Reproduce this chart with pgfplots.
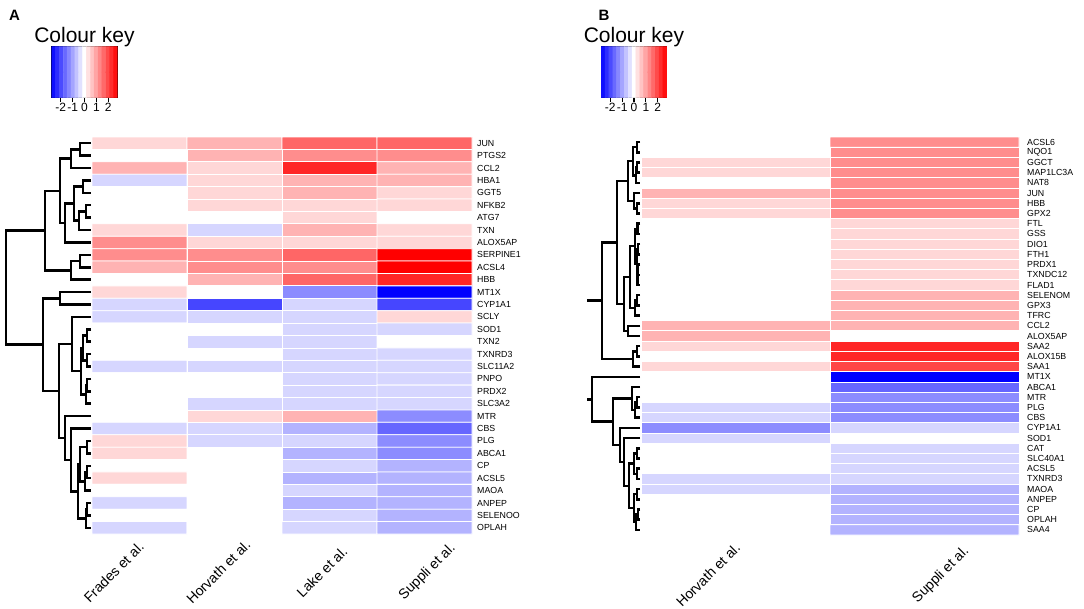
\documentclass[border=0pt]{standalone}
\usepackage{fontspec}
\setmainfont{Liberation Sans}
\usepackage{pgfplots}
\pgfplotsset{compat=1.18}

% blue - white - red, as in the colour key
\pgfplotsset{
  hmColours/.style={
    colormap={hmbwr}{rgb255=(0,0,255) rgb255=(255,255,255) rgb255=(255,0,0)},
    point meta min=-2.76, point meta max=2.76},
  hmHeatAxis/.style={
    hmColours, scale only axis, anchor=north west, enlargelimits=false,
    y dir=reverse,
    axis x line*=bottom, axis y line*=right, axis line style={draw=none},
    major tick length=0pt,
    yticklabel style={font=\fontsize{8.8}{10}\selectfont, anchor=west, inner sep=0.3pt},
    xticklabel style={font=\fontsize{14}{16}\selectfont}},
  hmTreeAxis/.style={scale only axis, anchor=north west, hide axis,
    enlargelimits=false, y dir=reverse},
  hmKeyAxis/.style={
    hmColours, scale only axis, anchor=north west, width=65.6pt, height=51pt,
    xmin=-2.7625, xmax=2.7625, ymin=-0.5, ymax=1.5, enlargelimits=false,
    axis line style={line width=1.1pt},
    xtick={-2,-1,0,1,2}, xticklabels={-2,-1,0,1,2}, ytick=\empty,
    xtick pos=bottom, tick align=outside, major tick length=4pt,
    every tick/.style={black, line width=1.2pt},
    xticklabel style={font=\fontsize{12}{13}\selectfont, inner sep=1pt},
    title={Colour key},
    title style={font=\fontsize{21}{24}\selectfont, at={(0.5,1)}, anchor=south,
      inner sep=0pt, yshift=-6pt}},
}
% one dendrogram link: child, node height, node, child
\newcommand{\treelink}[1]{\addplot[black, line width=2.5pt, line join=miter, mark=none] coordinates {#1};}

\begin{document}
\begin{tikzpicture}
\path[use as bounding box] (0,0) rectangle (1084pt,608pt);

\node[font=\bfseries\fontsize{15}{17}\selectfont] at (14.5pt,593pt) {A};
\node[font=\bfseries\fontsize{15}{17}\selectfont] at (604pt,593pt) {B};

% ---------------- dendrograms ----------------
\begin{axis}[hmTreeAxis, at={(0pt,471pt)}, width=92pt, height=397pt,
  xmin=0, xmax=92, ymin=-0.5, ymax=31.5]
\treelink{(91,0)(80,0)(80,1)(91,1)}
\treelink{(80,0.5)(71,0.5)(71,2)(91,2)}
\treelink{(91,3)(83,3)(83,4)(91,4)}
\treelink{(91,5)(86,5)(86,6)(91,6)}
\treelink{(86,5.5)(79,5.5)(79,7)(91,7)}
\treelink{(83,3.5)(74,3.5)(74,6.25)(79,6.25)}
\treelink{(74,4.875)(65,4.875)(65,8)(91,8)}
\treelink{(71,1.25)(60,1.25)(60,6.4375)(65,6.4375)}
\treelink{(91,9)(80,9)(80,10)(91,10)}
\treelink{(80,9.5)(71,9.5)(71,11)(91,11)}
\treelink{(60,3.844)(45,3.844)(45,10.25)(71,10.25)}
\treelink{(91,12)(60,12)(60,13)(91,13)}
\treelink{(91,15)(87,15)(87,16)(91,16)}
\treelink{(91,17)(87,17)(87,18)(91,18)}
\treelink{(87,15.5)(83,15.5)(83,17.5)(87,17.5)}
\treelink{(91,19)(87,19)(87,20)(91,20)}
\treelink{(87,19.5)(86,19.5)(86,21)(91,21)}
\treelink{(83,16.5)(81,16.5)(81,20.25)(86,20.25)}
\treelink{(91,14)(72,14)(72,18.375)(81,18.375)}
\treelink{(91,24)(87,24)(87,25)(91,25)}
\treelink{(91,26)(87,26)(87,27)(91,27)}
\treelink{(87,26.5)(85,26.5)(85,28)(91,28)}
\treelink{(87,24.5)(80,24.5)(80,27.25)(85,27.25)}
\treelink{(91,29)(87,29)(87,30)(91,30)}
\treelink{(87,29.5)(86,29.5)(86,31)(91,31)}
\treelink{(80,25.875)(78,25.875)(78,30.25)(86,30.25)}
\treelink{(91,23)(71,23)(71,28.06)(78,28.06)}
\treelink{(91,22)(65,22)(65,25.53)(71,25.53)}
\treelink{(72,16.19)(59,16.19)(59,23.77)(65,23.77)}
\treelink{(60,12.5)(43,12.5)(43,19.98)(59,19.98)}
\treelink{(45,7.047)(6,7.047)(6,16.24)(43,16.24)}
\end{axis}

\begin{axis}[hmTreeAxis, at={(587pt,471pt)}, width=54pt, height=398pt,
  xmin=587, xmax=641, ymin=-0.5, ymax=38.5]
\treelink{(640,0)(637,0)(637,1)(640,1)}
\treelink{(640,2)(637,2)(637,3)(640,3)}
\treelink{(637,2.5)(636,2.5)(636,4)(640,4)}
\treelink{(637,0.5)(633,0.5)(633,3.25)(636,3.25)}
\treelink{(640,6)(637,6)(637,7)(640,7)}
\treelink{(640,5)(634,5)(634,6.5)(637,6.5)}
\treelink{(633,1.875)(628,1.875)(628,5.75)(634,5.75)}
\treelink{(640,8)(637.5,8)(637.5,9)(640,9)}
\treelink{(640,10)(638,10)(638,11)(640,11)}
\treelink{(640,12)(638,12)(638,13)(640,13)}
\treelink{(638,12.5)(637.5,12.5)(637.5,14)(640,14)}
\treelink{(638,10.5)(637,10.5)(637,13.25)(637.5,13.25)}
\treelink{(637.5,8.5)(635,8.5)(635,11.875)(637,11.875)}
\treelink{(640,15)(637,15)(637,16)(640,16)}
\treelink{(637,15.5)(635,15.5)(635,17)(640,17)}
\treelink{(635,10.19)(630,10.19)(630,16.25)(635,16.25)}
\treelink{(640,18)(628,18)(628,19)(640,19)}
\treelink{(630,13.22)(624,13.22)(624,18.5)(628,18.5)}
\treelink{(628,3.81)(617,3.81)(617,15.86)(624,15.86)}
\treelink{(640,20)(637,20)(637,21)(640,21)}
\treelink{(637,20.5)(633,20.5)(633,22)(640,22)}
\treelink{(617,9.84)(602,9.84)(602,21.25)(633,21.25)}
\treelink{(602,15.54)(580,15.54)}
\treelink{(640,25)(637,25)(637,26)(640,26)}
\treelink{(637,25.5)(635,25.5)(635,27)(640,27)}
\treelink{(640,24)(632,24)(632,26.25)(635,26.25)}
\treelink{(640,30)(637,30)(637,31)(640,31)}
\treelink{(640,32)(637,32)(637,33)(640,33)}
\treelink{(637,30.5)(634,30.5)(634,32.5)(637,32.5)}
\treelink{(640,34)(637,34)(637,35)(640,35)}
\treelink{(640,36)(638,36)(638,37)(640,37)}
\treelink{(638,36.5)(636,36.5)(636,38)(640,38)}
\treelink{(637,34.5)(634,34.5)(634,37.25)(636,37.25)}
\treelink{(634,31.5)(629,31.5)(629,35.875)(634,35.875)}
\treelink{(640,29)(624,29)(624,33.69)(629,33.69)}
\treelink{(640,28)(620,28)(620,31.34)(624,31.34)}
\treelink{(632,25.125)(613,25.125)(613,29.67)(620,29.67)}
\treelink{(640,23)(592,23)(592,27.4)(613,27.4)}
\treelink{(592,25.2)(580,25.2)}
\end{axis}

% ---------------- colour keys ----------------
\begin{axis}[hmKeyAxis, at={(51.7pt,561.3pt)}]
\addplot[matrix plot*, mesh/cols=17, point meta=explicit] coordinates {
(-2.6,0)[-2.6] (-2.275,0)[-2.275] (-1.95,0)[-1.95] (-1.625,0)[-1.625] (-1.3,0)[-1.3] (-0.975,0)[-0.975] (-0.65,0)[-0.65] (-0.325,0)[-0.325] (0,0)[0] (0.325,0)[0.325] (0.65,0)[0.65] (0.975,0)[0.975] (1.3,0)[1.3] (1.625,0)[1.625] (1.95,0)[1.95] (2.275,0)[2.275] (2.6,0)[2.6]
(-2.6,1)[-2.6] (-2.275,1)[-2.275] (-1.95,1)[-1.95] (-1.625,1)[-1.625] (-1.3,1)[-1.3] (-0.975,1)[-0.975] (-0.65,1)[-0.65] (-0.325,1)[-0.325] (0,1)[0] (0.325,1)[0.325] (0.65,1)[0.65] (0.975,1)[0.975] (1.3,1)[1.3] (1.625,1)[1.625] (1.95,1)[1.95] (2.275,1)[2.275] (2.6,1)[2.6]
};
\end{axis}

\begin{axis}[hmKeyAxis, at={(601.2pt,561.3pt)}]
\addplot[matrix plot*, mesh/cols=17, point meta=explicit] coordinates {
(-2.6,0)[-2.6] (-2.275,0)[-2.275] (-1.95,0)[-1.95] (-1.625,0)[-1.625] (-1.3,0)[-1.3] (-0.975,0)[-0.975] (-0.65,0)[-0.65] (-0.325,0)[-0.325] (0,0)[0] (0.325,0)[0.325] (0.65,0)[0.65] (0.975,0)[0.975] (1.3,0)[1.3] (1.625,0)[1.625] (1.95,0)[1.95] (2.275,0)[2.275] (2.6,0)[2.6]
(-2.6,1)[-2.6] (-2.275,1)[-2.275] (-1.95,1)[-1.95] (-1.625,1)[-1.625] (-1.3,1)[-1.3] (-0.975,1)[-0.975] (-0.65,1)[-0.65] (-0.325,1)[-0.325] (0,1)[0] (0.325,1)[0.325] (0.65,1)[0.65] (0.975,1)[0.975] (1.3,1)[1.3] (1.625,1)[1.625] (1.95,1)[1.95] (2.275,1)[2.275] (2.6,1)[2.6]
};
\end{axis}

% ---------------- heatmap A ----------------
\begin{axis}[hmHeatAxis, at={(92pt,471pt)}, width=380pt, height=397pt,
  xmin=-0.5, xmax=3.5, ymin=-0.5, ymax=31.5,
  ytick={0,...,31},
  yticklabels={JUN,PTGS2,CCL2,HBA1,GGT5,NFKB2,ATG7,TXN,ALOX5AP,SERPINE1,ACSL4,HBB,MT1X,CYP1A1,SCLY,SOD1,TXN2,TXNRD3,SLC11A2,PNPO,PRDX2,SLC3A2,MTR,CBS,PLG,ABCA1,CP,ACSL5,MAOA,ANPEP,SELENOO,OPLAH},
  yticklabel style={xshift=4.7pt},
  xtick={-0.27,0.83,1.92,3.03},
  xticklabels={Frades et al.,Horvath et al.,Lake et al.,Suppli et al.},
  xticklabel style={yshift=-38pt, rotate=45, anchor=center}]
\addplot[matrix plot*, mesh/cols=4, point meta=explicit, draw=white, line width=0.8pt] coordinates {
(0,0)[0.44] (1,0)[0.82] (2,0)[1.66] (3,0)[1.66]
(0,1)[0] (1,1)[0.82] (2,1)[1.24] (3,1)[1.24]
(0,2)[0.82] (1,2)[0.44] (2,2)[2.35] (3,2)[0.82]
(0,3)[-0.44] (1,3)[0.44] (2,3)[0.82] (3,3)[0.82]
(0,4)[0] (1,4)[0.44] (2,4)[0.82] (3,4)[0.44]
(0,5)[0] (1,5)[0.44] (2,5)[0.44] (3,5)[0.44]
(0,6)[0] (1,6)[0] (2,6)[0.44] (3,6)[0]
(0,7)[0.44] (1,7)[-0.44] (2,7)[0.82] (3,7)[0.44]
(0,8)[1.24] (1,8)[0.44] (2,8)[0.44] (3,8)[0.44]
(0,9)[1.24] (1,9)[1.24] (2,9)[1.66] (3,9)[2.76]
(0,10)[0.82] (1,10)[1.24] (2,10)[1.24] (3,10)[2.76]
(0,11)[0] (1,11)[0.82] (2,11)[1.66] (3,11)[2.35]
(0,12)[0.44] (1,12)[0] (2,12)[-1.24] (3,12)[-2.76]
(0,13)[-0.44] (1,13)[-2.0] (2,13)[-0.44] (3,13)[-2.0]
(0,14)[-0.44] (1,14)[-0.44] (2,14)[-0.44] (3,14)[0.44]
(0,15)[0] (1,15)[0] (2,15)[-0.44] (3,15)[-0.44]
(0,16)[0] (1,16)[-0.44] (2,16)[-0.44] (3,16)[0]
(0,17)[0] (1,17)[0] (2,17)[-0.44] (3,17)[-0.44]
(0,18)[-0.44] (1,18)[-0.44] (2,18)[-0.44] (3,18)[-0.44]
(0,19)[0] (1,19)[0] (2,19)[-0.44] (3,19)[-0.44]
(0,20)[0] (1,20)[0] (2,20)[-0.44] (3,20)[-0.44]
(0,21)[0] (1,21)[-0.44] (2,21)[-0.44] (3,21)[-0.44]
(0,22)[0] (1,22)[0.44] (2,22)[0.82] (3,22)[-1.24]
(0,23)[-0.44] (1,23)[-0.44] (2,23)[-0.82] (3,23)[-1.66]
(0,24)[0.44] (1,24)[-0.44] (2,24)[-0.44] (3,24)[-1.24]
(0,25)[0.44] (1,25)[0] (2,25)[-0.82] (3,25)[-1.24]
(0,26)[0] (1,26)[0] (2,26)[-0.44] (3,26)[-0.82]
(0,27)[0.44] (1,27)[0] (2,27)[-0.82] (3,27)[-0.82]
(0,28)[0] (1,28)[0] (2,28)[-0.44] (3,28)[-0.82]
(0,29)[-0.44] (1,29)[0] (2,29)[-0.82] (3,29)[-0.82]
(0,30)[0] (1,30)[0] (2,30)[-0.44] (3,30)[-0.82]
(0,31)[-0.44] (1,31)[0] (2,31)[-0.44] (3,31)[-0.82]
};
\end{axis}

% ---------------- heatmap B ----------------
\begin{axis}[hmHeatAxis, at={(641pt,471pt)}, width=378pt, height=398pt,
  xmin=-0.5, xmax=1.5, ymin=-0.5, ymax=38.5,
  ytick={0,...,38},
  yticklabels={ACSL6,NQO1,GGCT,MAP1LC3A,NAT8,JUN,HBB,GPX2,FTL,GSS,DIO1,FTH1,PRDX1,TXNDC12,FLAD1,SELENOM,GPX3,TFRC,CCL2,ALOX5AP,SAA2,ALOX15B,SAA1,MT1X,ABCA1,MTR,PLG,CBS,CYP1A1,SOD1,CAT,SLC40A1,ACSL5,TXNRD3,MAOA,ANPEP,CP,OPLAH,SAA4},
  yticklabel style={xshift=7.7pt},
  xtick={-0.145,1.087},
  xticklabels={Horvath et al.,Suppli et al.},
  xticklabel style={yshift=-40pt, rotate=45, anchor=center}]
\addplot[matrix plot*, mesh/cols=2, point meta=explicit, draw=white, line width=0.8pt] coordinates {
(0,0)[0] (1,0)[1.24]
(0,1)[0] (1,1)[1.24]
(0,2)[0.44] (1,2)[1.24]
(0,3)[0.44] (1,3)[1.24]
(0,4)[0] (1,4)[1.24]
(0,5)[0.82] (1,5)[1.24]
(0,6)[0.44] (1,6)[1.24]
(0,7)[0.44] (1,7)[1.24]
(0,8)[0] (1,8)[0.44]
(0,9)[0] (1,9)[0.44]
(0,10)[0] (1,10)[0.44]
(0,11)[0] (1,11)[0.44]
(0,12)[0] (1,12)[0.44]
(0,13)[0] (1,13)[0.44]
(0,14)[0] (1,14)[0.44]
(0,15)[0] (1,15)[0.82]
(0,16)[0] (1,16)[0.82]
(0,17)[0] (1,17)[0.82]
(0,18)[0.82] (1,18)[0.82]
(0,19)[0.82] (1,19)[0]
(0,20)[0.44] (1,20)[2.35]
(0,21)[0] (1,21)[2.35]
(0,22)[0.44] (1,22)[2.0]
(0,23)[0] (1,23)[-2.76]
(0,24)[0] (1,24)[-1.66]
(0,25)[0] (1,25)[-1.24]
(0,26)[-0.44] (1,26)[-1.24]
(0,27)[-0.44] (1,27)[-1.24]
(0,28)[-1.24] (1,28)[-0.44]
(0,29)[-0.44] (1,29)[0]
(0,30)[0] (1,30)[-0.44]
(0,31)[0] (1,31)[-0.44]
(0,32)[0] (1,32)[-0.44]
(0,33)[-0.44] (1,33)[-0.44]
(0,34)[-0.44] (1,34)[-0.82]
(0,35)[0] (1,35)[-0.82]
(0,36)[0] (1,36)[-0.82]
(0,37)[0] (1,37)[-0.82]
(0,38)[0] (1,38)[-0.82]
};
\end{axis}
\end{tikzpicture}
\end{document}
